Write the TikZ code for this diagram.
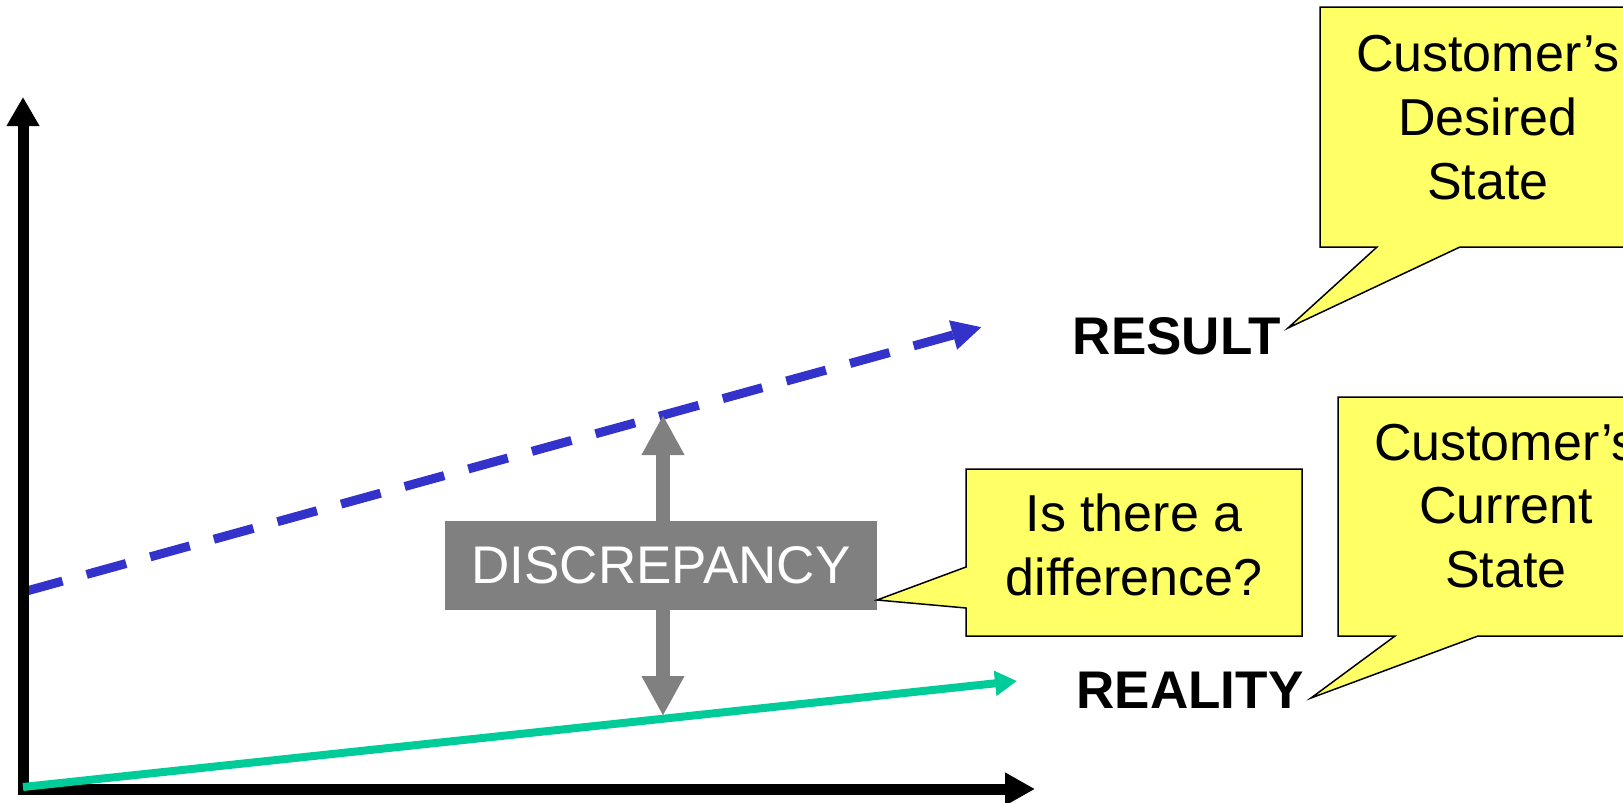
\documentclass[tikz,border=0pt]{standalone}
\usepackage{fontspec}
\setmainfont{Liberation Sans}
\usetikzlibrary{arrows.meta}
\definecolor{lineblue}{HTML}{3333CC}
\definecolor{linegreen}{HTML}{00CC99}
\definecolor{calloutyellow}{HTML}{FFFF66}
\definecolor{discgray}{HTML}{808080}
\begin{document}
\begin{tikzpicture}[x=1pt,y=-1pt,
  axisline/.style={line width=11pt, line join=miter, {Triangle[length=29pt,width=31pt]}-{Triangle[length=30pt,width=31pt]}},
  resultline/.style={lineblue, line width=9pt, dash pattern=on 41pt off 25pt, -{Triangle[length=30pt,width=28pt]}},
  realityline/.style={linegreen, line width=8pt, -{Triangle[length=22pt,width=24pt]}},
  gaparrow/.style={discgray, line width=14pt, {Triangle[length=40pt,width=40pt]}-{Triangle[length=40pt,width=40pt]}},
  discbox/.style={fill=discgray, text=white, minimum width=432pt, minimum height=89pt, inner sep=0pt, font=\fontsize{53}{64}\selectfont},
  callout/.style={fill=calloutyellow, draw=black, line width=1.5pt, line join=miter},
  callouttext/.style={align=center, inner sep=0pt, font=\fontsize{52}{64}\selectfont},
  statelabel/.style={anchor=base, inner sep=0pt, font=\fontsize{53}{64}\selectfont\bfseries}
]
\clip (0,0) rectangle (1623,803);
\fill[white] (0,0) rectangle (1623,803);

% coordinates
\coordinate (O) at (23,789);
\coordinate (Ytip) at (23,97);
\coordinate (Xtip) at (1035,789);
\coordinate (Bstart) at (23,592);
\coordinate (Bend) at (982,327);
\coordinate (Gstart) at (23,787);
\coordinate (Gend) at (1017,681);
\coordinate (Dtop) at (663,415);
\coordinate (Dbot) at (663,716);

% lines
\draw[resultline] (Bstart) -- (Bend);
\draw[axisline] (Ytip) -- (O) -- (Xtip);
\draw[realityline] (Gstart) -- (Gend);

% discrepancy
\draw[gaparrow] (Dbot) -- (Dtop);
\node[discbox] (disc) at (661,565.5) {DISCREPANCY};

% labels
\node[statelabel] (result) at (1177,354) {RESULT};
\node[statelabel] (reality) at (1190,708) {REALITY};

% callout: difference
\draw[callout] (966,469) -- (1302,469) -- (1302,636) -- (966,636) -- (966,608) -- (877,600) -- (966,567) -- cycle;
\node[callouttext] (diff) at (1134,545) {Is there a\\difference?};

% callout: desired state
\draw[callout] (1320,7) -- (1680,7) -- (1680,247) -- (1460,247) -- (1288,328) -- (1377,247) -- (1320,247) -- cycle;
\node[callouttext] (desired) at (1488,117.5) {Customer’s\\Desired\\State};

% callout: current state
\draw[callout] (1338,397) -- (1680,397) -- (1680,636) -- (1478,636) -- (1311,698) -- (1395,636) -- (1338,636) -- cycle;
\node[callouttext, font=\fontsize{52}{63.5}\selectfont] (current) at (1506,506) {Customer’s\\Current\\State};
\end{tikzpicture}
\end{document}
